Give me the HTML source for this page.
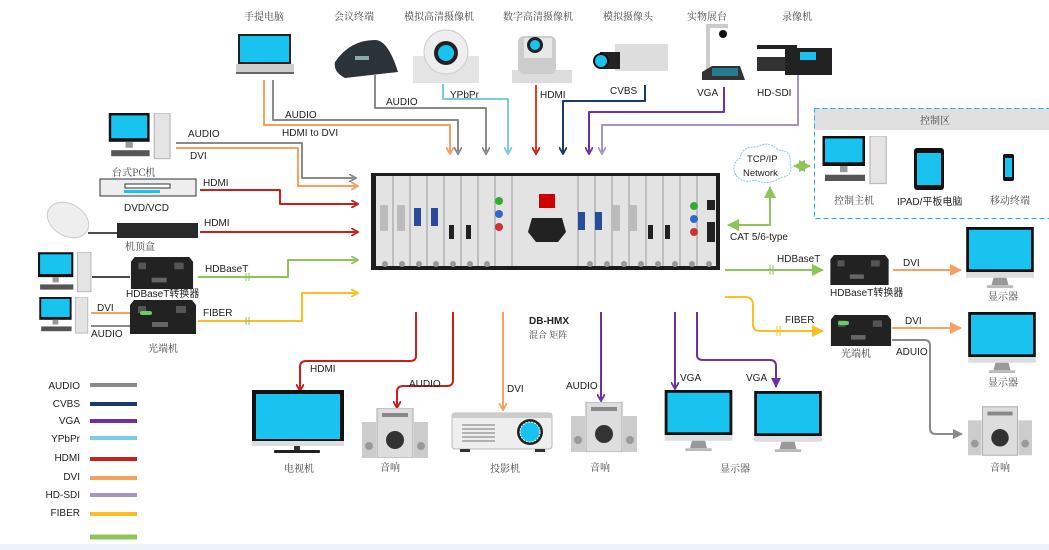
<!DOCTYPE html>
<html><head><meta charset="utf-8"><style>
html,body{margin:0;padding:0;background:#fff;}
svg{display:block;}
text{font-family:"Liberation Sans","Noto Sans CJK SC",sans-serif;font-size:10px;fill:#222;}
.cn{font-family:"Noto Serif CJK SC","Noto Sans CJK SC",serif;font-size:10px;fill:#444;}
.l{fill:none;stroke-width:2;stroke-linejoin:round;}
</style></head><body>
<svg width="1049" height="550" viewBox="0 0 1049 550" xmlns="http://www.w3.org/2000/svg">
<defs>
<marker id="mg" markerWidth="8" markerHeight="8" refX="6" refY="4" orient="auto" markerUnits="userSpaceOnUse"><path d="M0,0 L7,4 L0,8" fill="none" stroke="#8a8a8a" stroke-width="1.8"/></marker>
<marker id="mgf" markerWidth="10" markerHeight="10" refX="9" refY="5" orient="auto" markerUnits="userSpaceOnUse"><path d="M0,0 L10,5 L0,10z" fill="#8a8a8a"/></marker>
<marker id="mo" markerWidth="8" markerHeight="8" refX="6" refY="4" orient="auto" markerUnits="userSpaceOnUse"><path d="M0,0 L7,4 L0,8" fill="none" stroke="#f7a060" stroke-width="1.8"/></marker>
<marker id="mof" markerWidth="12" markerHeight="12" refX="11" refY="6" orient="auto" markerUnits="userSpaceOnUse"><path d="M0,0 L12,6 L0,12z" fill="#f7a060"/></marker>
<marker id="mb" markerWidth="8" markerHeight="8" refX="6" refY="4" orient="auto" markerUnits="userSpaceOnUse"><path d="M0,0 L7,4 L0,8" fill="none" stroke="#7ecbe0" stroke-width="1.8"/></marker>
<marker id="mr" markerWidth="8" markerHeight="8" refX="6" refY="4" orient="auto" markerUnits="userSpaceOnUse"><path d="M0,0 L7,4 L0,8" fill="none" stroke="#c8201a" stroke-width="1.8"/></marker>
<marker id="mn" markerWidth="8" markerHeight="8" refX="6" refY="4" orient="auto" markerUnits="userSpaceOnUse"><path d="M0,0 L7,4 L0,8" fill="none" stroke="#1a3a6a" stroke-width="1.8"/></marker>
<marker id="mp" markerWidth="8" markerHeight="8" refX="6" refY="4" orient="auto" markerUnits="userSpaceOnUse"><path d="M0,0 L7,4 L0,8" fill="none" stroke="#7030a0" stroke-width="1.8"/></marker>
<marker id="mpf" markerWidth="10" markerHeight="10" refX="9" refY="5" orient="auto" markerUnits="userSpaceOnUse"><path d="M0,0 L10,5 L0,10z" fill="#7030a0"/></marker>
<marker id="ml" markerWidth="8" markerHeight="8" refX="6" refY="4" orient="auto" markerUnits="userSpaceOnUse"><path d="M0,0 L7,4 L0,8" fill="none" stroke="#a893c8" stroke-width="1.8"/></marker>
<marker id="my" markerWidth="8" markerHeight="8" refX="6" refY="4" orient="auto" markerUnits="userSpaceOnUse"><path d="M0,0 L7,4 L0,8" fill="none" stroke="#fbbf24" stroke-width="1.8"/></marker>
<marker id="myf" markerWidth="12" markerHeight="12" refX="11" refY="6" orient="auto" markerUnits="userSpaceOnUse"><path d="M0,0 L12,6 L0,12z" fill="#fbbf24"/></marker>
<marker id="mgr" markerWidth="8" markerHeight="8" refX="6" refY="4" orient="auto" markerUnits="userSpaceOnUse"><path d="M0,0 L7,4 L0,8" fill="none" stroke="#8fc45a" stroke-width="1.8"/></marker>
<marker id="mgrf" markerWidth="12" markerHeight="12" refX="11" refY="6" orient="auto" markerUnits="userSpaceOnUse"><path d="M0,0 L12,6 L0,12z" fill="#8fc45a"/></marker>
<marker id="mgrs" markerWidth="12" markerHeight="12" refX="1" refY="6" orient="auto" markerUnits="userSpaceOnUse"><path d="M12,0 L0,6 L12,12z" fill="#8fc45a"/></marker>
<symbol id="mon" viewBox="0 0 72 66"><rect x="0" y="0" width="72" height="48" fill="#111"/><rect x="3" y="3" width="66" height="42" fill="#19c3f0"/><rect x="0" y="48" width="72" height="6" fill="#ddd"/><path d="M29,54 H43 L45,62 H27z" fill="#999"/><rect x="22" y="62" width="28" height="3" fill="#bbb"/></symbol>
<symbol id="spk" viewBox="0 0 66 50"><rect x="0" y="14" width="14" height="36" fill="#ccc"/><rect x="52" y="14" width="14" height="36" fill="#ccc"/><rect x="15" y="0" width="36" height="50" fill="#ddd" stroke="#aaa"/><circle cx="33" cy="32" r="9" fill="#333"/><circle cx="7" cy="38" r="4" fill="#999"/><circle cx="59" cy="38" r="4" fill="#999"/><rect x="20" y="5" width="26" height="4" fill="#888"/></symbol>
<symbol id="pc" viewBox="0 0 52 40"><rect x="0" y="0" width="34" height="24" fill="#111"/><rect x="2" y="2" width="30" height="19" fill="#19c3f0"/><rect x="14" y="24" width="6" height="5" fill="#999"/><rect x="2" y="31" width="32" height="5" fill="#555"/><rect x="38" y="0" width="13" height="38" fill="#e4e4e4" stroke="#bbb"/></symbol>
<symbol id="box" viewBox="0 0 66 34"><path d="M4,0 H62 L66,5 V34 H0 V5z" fill="#222"/><rect x="8" y="6" width="8" height="7" fill="#555"/><rect x="46" y="6" width="10" height="7" fill="#555"/><rect x="22" y="22" width="16" height="5" fill="#666"/></symbol>
</defs>

<!-- bottom strip -->
<rect x="0" y="544" width="1049" height="6" fill="#eef3fa"/>

<!-- top labels -->
<g class="cn" text-anchor="middle">
<text class="cn" x="264" y="20">手提电脑</text>
<text class="cn" x="354" y="20">会议终端</text>
<text class="cn" x="439" y="20">模拟高清摄像机</text>
<text class="cn" x="538" y="20">数字高清摄像机</text>
<text class="cn" x="628" y="20">模拟摄像头</text>
<text class="cn" x="707" y="20">实物展台</text>
<text class="cn" x="797" y="20">录像机</text>
</g>

<!-- laptop -->
<rect x="238" y="34" width="53" height="30" fill="#222"/><rect x="240" y="36" width="49" height="26" fill="#19c3f0"/>
<rect x="236" y="64" width="58" height="10" fill="#ccc"/><rect x="236" y="72" width="58" height="2" fill="#666"/>
<!-- conference phone -->
<path d="M335,62 Q350,40 375,40 Q388,40 398,72 L345,78 Q333,72 335,62z" fill="#2c3338"/><rect x="355" y="56" width="14" height="4" fill="#8aa"/>
<!-- analog hd camera -->
<rect x="413" y="56" width="66" height="27" fill="#e4e4e4"/><circle cx="446" cy="52" r="22" fill="#eee" stroke="#ccc"/><circle cx="446" cy="53" r="12" fill="#222"/><circle cx="446" cy="53" r="8" fill="#19c3f0"/>
<!-- digital hd camera -->
<rect x="512" y="70" width="60" height="13" fill="#ddd"/><rect x="518" y="36" width="38" height="38" rx="6" fill="#ccc"/><rect x="524" y="38" width="28" height="20" fill="#e8e8e8"/><circle cx="535" cy="45" r="8" fill="#222"/><circle cx="535" cy="45" r="5" fill="#19c3f0"/>
<!-- box camera -->
<rect x="615" y="44" width="53" height="27" fill="#ddd"/><rect x="600" y="52" width="20" height="17" fill="#222"/><circle cx="601" cy="61" r="7" fill="#19c3f0" stroke="#111" stroke-width="2"/>
<!-- doc camera -->
<rect x="706" y="24" width="4" height="48" fill="#ccc"/><rect x="706" y="24" width="22" height="4" fill="#ccc"/><circle cx="723" cy="34" r="4" fill="#111"/><path d="M702,72 L712,66 H740 L745,80 H702z" fill="#333"/><rect x="712" y="68" width="26" height="8" fill="#19c3f0" opacity="0.5"/>
<!-- camcorder -->
<rect x="757" y="57" width="32" height="14" fill="#333"/><rect x="785" y="48" width="47" height="27" fill="#222"/><rect x="800" y="52" width="16" height="8" fill="#19c3f0"/><rect x="757" y="45" width="40" height="4" fill="#222"/>

<!-- top lines -->
<path class="l" stroke="#f7a060" d="M264,80 V125 H450 V153" marker-end="url(#mo)"/>
<path class="l" stroke="#8a8a8a" d="M273,80 V120 H458 V153" marker-end="url(#mg)"/>
<path class="l" stroke="#8a8a8a" d="M375,75 V108 H486 V153" marker-end="url(#mg)"/>
<path class="l" stroke="#7ecbe0" d="M443,84 V99 H508 V153" marker-end="url(#mb)"/>
<path class="l" stroke="#d9441a" d="M536,85 V153" marker-end="url(#mr)"/>
<path class="l" stroke="#1a3a6a" d="M645,85 V101 H563 V153" marker-end="url(#mn)"/>
<path class="l" stroke="#7030a0" d="M724,87 V112 H589 V153" marker-end="url(#mp)"/>
<path class="l" stroke="#a893c8" d="M798,75 V125 H602 V153" marker-end="url(#ml)"/>
<text x="285" y="118">AUDIO</text><text x="282" y="136">HDMI to DVI</text>
<text x="386" y="105">AUDIO</text><text x="450" y="98">YPbPr</text><text x="540" y="98">HDMI</text>
<text x="610" y="94">CVBS</text><text x="697" y="96">VGA</text><text x="757" y="96">HD-SDI</text>

<!-- left devices -->
<use href="#pc" x="104" y="113" width="72" height="48"/>
<text class="cn" x="112" y="176">台式PC机</text>
<rect x="100" y="179" width="96" height="17" fill="#eee" stroke="#333"/><rect x="125" y="184" width="45" height="4" fill="#fff" stroke="#333"/><rect x="124" y="190" width="36" height="3" fill="#19c3f0"/>
<text x="124" y="211">DVD/VCD</text>
<ellipse cx="68" cy="220" rx="22" ry="16" fill="#eee" stroke="#ccc" transform="rotate(30 68 220)"/>
<line x1="88" y1="233" x2="117" y2="233" stroke="#111" stroke-width="1.5"/>
<rect x="117" y="223" width="81" height="15" fill="#2a2a2a"/>
<text class="cn" x="125" y="250">机顶盒</text>
<use href="#pc" x="38" y="252" width="54" height="42"/>
<line x1="92" y1="277" x2="130" y2="277" stroke="#111" stroke-width="1.5"/>
<use href="#box" x="129" y="257" width="66" height="32"/>
<text x="126" y="297">HDBaseT转换器</text>
<use href="#pc" x="37" y="297" width="54" height="38"/>
<use href="#box" x="130" y="300" width="66" height="34"/><rect x="140" y="311" width="12" height="4" rx="2" fill="#6c6"/>
<line x1="91" y1="313" x2="130" y2="313" stroke="#f7a060" stroke-width="2"/>
<line x1="91" y1="326" x2="130" y2="326" stroke="#8a8a8a" stroke-width="2"/>
<text x="97" y="311">DVI</text><text x="91" y="337">AUDIO</text>
<text class="cn" x="148" y="352">光端机</text>

<!-- left lines -->
<path class="l" stroke="#8a8a8a" d="M176,143 H302 V178 H355" marker-end="url(#mg)"/>
<path class="l" stroke="#f7a060" d="M176,148 H298 V186 H357" marker-end="url(#mo)"/>
<path class="l" stroke="#c8201a" d="M200,190 H280 V204 H357" marker-end="url(#mr)"/>
<path class="l" stroke="#c8201a" d="M200,232 H357" marker-end="url(#mr)"/>
<path class="l" stroke="#8fc45a" d="M198,277 H288 V260 H357" marker-end="url(#mgr)"/>
<path class="l" stroke="#fbbf24" d="M198,321 H302 V293 H357" marker-end="url(#my)"/>
<text x="188" y="137">AUDIO</text><text x="190" y="159">DVI</text>
<text x="203" y="186">HDMI</text><text x="204" y="226">HDMI</text>
<text x="205" y="272">HDBaseT</text><text x="203" y="316">FIBER</text>
<path d="M246,273 V281 M249,273 V281 M246,317 V325 M249,317 V325" stroke="#8fc45a" stroke-width="1"/>

<!-- matrix -->
<rect x="371" y="173" width="349" height="97" fill="#1c1c1c"/>
<rect x="376" y="176" width="340" height="90" fill="#e3e3e3"/>
<g stroke="#999" stroke-width="1">
<path d="M393,176V266M410,176V266M427,176V266M444,176V266M461,176V266M478,176V266M495,176V266M512,176V266M578,176V266M595,176V266M612,176V266M629,176V266M646,176V266M663,176V266M680,176V266M697,176V266"/>
</g>
<g fill="#bbb"><rect x="380" y="205" width="8" height="26"/><rect x="397" y="205" width="8" height="26"/><rect x="612" y="205" width="8" height="26"/><rect x="629" y="205" width="8" height="26"/></g>
<g fill="#2a4a9a"><rect x="414" y="208" width="7" height="18"/><rect x="431" y="208" width="7" height="18"/><rect x="578" y="212" width="7" height="18"/><rect x="595" y="212" width="7" height="18"/></g>
<g fill="#222"><rect x="449" y="225" width="5" height="14"/><rect x="466" y="225" width="5" height="14"/><rect x="648" y="225" width="5" height="14"/><rect x="665" y="225" width="5" height="14"/><rect x="707" y="200" width="8" height="10"/><rect x="707" y="222" width="8" height="20"/></g>
<rect x="539" y="194" width="16" height="14" fill="#c00"/>
<path d="M532,218 H562 L566,232 L558,242 H536 L528,232z" fill="#222"/>
<circle cx="499" cy="201" r="4" fill="#3a3"/><circle cx="499" cy="214" r="4" fill="#36c"/><circle cx="499" cy="227" r="4" fill="#c33"/>
<circle cx="694" cy="206" r="4" fill="#3a3"/><circle cx="694" cy="219" r="4" fill="#36c"/><circle cx="694" cy="232" r="4" fill="#c33"/>
<g fill="#999"><circle cx="385" cy="264" r="3"/><circle cx="402" cy="264" r="3"/><circle cx="419" cy="264" r="3"/><circle cx="436" cy="264" r="3"/><circle cx="453" cy="264" r="3"/><circle cx="470" cy="264" r="3"/><circle cx="487" cy="264" r="3"/><circle cx="590" cy="264" r="3"/><circle cx="607" cy="264" r="3"/><circle cx="624" cy="264" r="3"/><circle cx="641" cy="264" r="3"/><circle cx="658" cy="264" r="3"/><circle cx="675" cy="264" r="3"/><circle cx="692" cy="264" r="3"/><circle cx="709" cy="264" r="3"/></g>

<text x="529" y="324" style="font-weight:bold">DB-HMX</text>
<text class="cn" x="529" y="338" style="font-size:9px">混合 矩阵</text>

<!-- network & control -->
<path d="M736,175 Q730,165 740,158 Q742,146 757,147 Q768,140 778,150 Q792,150 790,164 Q794,176 780,178 Q768,186 755,180 Q742,184 736,175z" fill="#fff" stroke="#7ecbe0" stroke-dasharray="2,1"/>
<text x="747" y="162" style="font-size:9.5px">TCP/IP</text><text x="743" y="176" style="font-size:9.5px">Network</text>
<path class="l" stroke="#8fc45a" d="M794,166 H810" marker-end="url(#mgrf)" marker-start="url(#mgrs)"/>
<path class="l" stroke="#8fc45a" d="M770,187 V225 H728" marker-end="url(#mgrf)" marker-start="url(#mgrs)"/>
<text x="730" y="240">CAT 5/6-type</text>
<rect x="814" y="130" width="235" height="88" fill="#fff"/>
<rect x="814" y="108" width="235" height="22" fill="#e0e0e0"/>
<rect x="814.5" y="108.5" width="240" height="110" fill="none" stroke="#2bb5e8" stroke-dasharray="5,3"/>
<text class="cn" x="920" y="124">控制区</text>
<use href="#pc" x="822" y="136" width="66" height="50"/>
<text class="cn" x="834" y="204">控制主机</text>
<rect x="914" y="148" width="30" height="42" rx="3" fill="#111"/><rect x="917" y="153" width="24" height="32" fill="#19c3f0"/>
<text x="897" y="205">IPAD/平板电脑</text>
<rect x="1003" y="154" width="11" height="27" rx="2" fill="#111"/><rect x="1005" y="158" width="7" height="19" fill="#19c3f0"/>
<text class="cn" x="990" y="204">移动终端</text>

<!-- right outputs -->
<path class="l" stroke="#8fc45a" d="M725,270 H823" marker-end="url(#mgrf)"/>
<path d="M770,265 V275 M773,265 V275" stroke="#8fc45a"/>
<text x="777" y="262">HDBaseT</text>
<use href="#box" x="826" y="255" width="67" height="30"/>
<text x="830" y="296">HDBaseT转换器</text>
<path class="l" stroke="#f7a060" stroke-width="3" d="M893,270 H961" marker-end="url(#mof)"/>
<text x="903" y="266">DVI</text>
<use href="#mon" x="963" y="227" width="74" height="62"/>
<text class="cn" x="988" y="300">显示器</text>
<path class="l" stroke="#fbbf24" d="M725,297 H745 Q753,297 753,305 V324 Q753,331 760,331 H823" marker-end="url(#myf)"/>
<path d="M777,326 V336 M780,326 V336" stroke="#fbbf24"/>
<text x="785" y="323">FIBER</text>
<use href="#box" x="830" y="315" width="62" height="31"/><rect x="838" y="321" width="11" height="4" rx="2" fill="#6c6"/>
<text class="cn" x="841" y="357">光端机</text>
<path class="l" stroke="#f7a060" stroke-width="3" d="M892,328 H961" marker-end="url(#mof)"/>
<text x="905" y="324">DVI</text>
<path class="l" stroke="#8a8a8a" d="M892,340 H925 Q930,340 930,346 V428 Q930,434 936,434 H962" marker-end="url(#mgf)"/>
<text x="896" y="355">ADUIO</text>
<use href="#mon" x="965" y="312" width="74" height="62"/>
<text class="cn" x="988" y="386">显示器</text>
<use href="#spk" x="968" y="406" width="64" height="50"/>
<text class="cn" x="990" y="471">音响</text>

<!-- bottom outputs -->
<path class="l" stroke="#c8201a" d="M416,312 V356 Q416,361 410,361 H306 Q300,361 300,367 V390" marker-end="url(#mr)"/>
<text x="310" y="372">HDMI</text>
<path class="l" stroke="#c8201a" d="M453,312 V380 Q453,386 447,386 H403 Q397,386 397,392 V407" marker-end="url(#mr)"/>
<text x="409" y="387">AUDIO</text>
<path class="l" stroke="#f7a060" d="M503,312 V409" marker-end="url(#mo)"/>
<text x="507" y="392">DVI</text>
<path class="l" stroke="#7030a0" d="M601,312 V400" marker-end="url(#mp)"/>
<text x="566" y="389">AUDIO</text>
<path class="l" stroke="#7030a0" d="M675,312 V388" marker-end="url(#mp)"/>
<text x="680" y="381">VGA</text>
<path class="l" stroke="#7030a0" d="M697,312 V355 Q697,360 703,360 H770 Q776,360 776,366 V387" marker-end="url(#mpf)"/>
<text x="746" y="381">VGA</text>

<!-- TV -->
<rect x="252" y="390" width="92" height="55" fill="#111"/><rect x="256" y="394" width="84" height="45" fill="#19c3f0"/><rect x="252" y="441" width="92" height="5" fill="#ddd"/>
<rect x="294" y="446" width="6" height="5" fill="#333"/><rect x="274" y="450" width="46" height="3" rx="1" fill="#222"/>
<text class="cn" x="284" y="472">电视机</text>
<use href="#spk" x="362" y="408" width="66" height="50"/>
<text class="cn" x="380" y="471">音响</text>
<!-- projector -->
<rect x="452" y="413" width="100" height="36" rx="3" fill="#eee" stroke="#bbb"/><rect x="452" y="413" width="100" height="5" fill="#ccc"/>
<g stroke="#777"><path d="M462,425 H495 M462,429 H495 M462,433 H495 M462,437 H495 M462,441 H495"/></g>
<circle cx="530" cy="432" r="13" fill="#222"/><circle cx="530" cy="432" r="10" fill="#19c3f0" stroke="#fff" stroke-dasharray="2,1"/>
<rect x="460" y="449" width="10" height="3" fill="#333"/><rect x="535" y="449" width="10" height="3" fill="#333"/>
<text class="cn" x="490" y="472">投影机</text>
<use href="#spk" x="571" y="402" width="66" height="50"/>
<text class="cn" x="590" y="471">音响</text>
<use href="#mon" x="662" y="390" width="73" height="62"/>
<use href="#mon" x="752" y="391" width="72" height="62"/>
<text class="cn" x="720" y="472">显示器</text>

<!-- legend -->
<g style="font-size:9.5px" text-anchor="end">
<text x="80" y="389">AUDIO</text><text x="80" y="407">CVBS</text><text x="80" y="424">VGA</text><text x="80" y="442">YPbPr</text>
<text x="80" y="461">HDMI</text><text x="80" y="480">DVI</text><text x="80" y="498">HD-SDI</text><text x="80" y="516">FIBER</text>
</g>
<g stroke-width="4">
<line x1="90" y1="385" x2="137" y2="385" stroke="#8a8a8a"/>
<line x1="90" y1="404" x2="137" y2="404" stroke="#1a3a6a"/>
<line x1="90" y1="421" x2="137" y2="421" stroke="#7030a0"/>
<line x1="90" y1="438" x2="137" y2="438" stroke="#7ecbe0"/>
<line x1="90" y1="459" x2="137" y2="459" stroke="#c8201a"/>
<line x1="90" y1="478" x2="137" y2="478" stroke="#f7a060"/>
<line x1="90" y1="495" x2="137" y2="495" stroke="#a893c8"/>
<line x1="90" y1="514" x2="137" y2="514" stroke="#fbbf24"/>
<line x1="90" y1="537" x2="137" y2="537" stroke="#8fc45a" stroke-width="5"/>
</g>
</svg>
</body></html>
